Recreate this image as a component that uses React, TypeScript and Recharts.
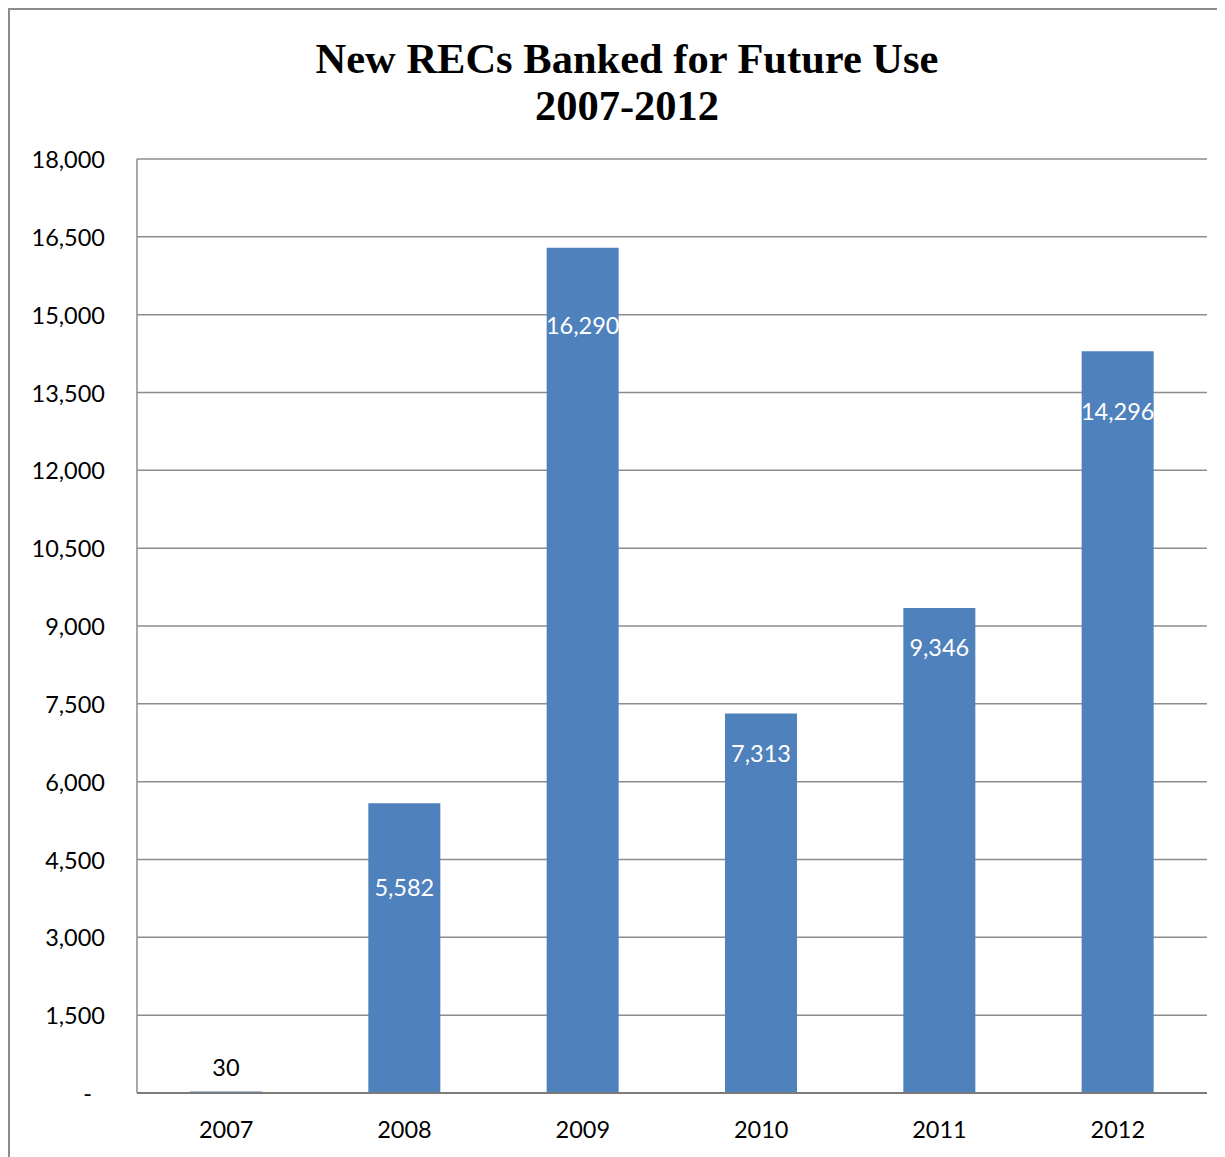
import React from "react";
import { BarChart, Bar, XAxis, YAxis, CartesianGrid, LabelList } from "recharts";

const YEARS = ["2007", "2008", "2009", "2010", "2011", "2012"];
const BANKED = [30, 5582, 16290, 7313, 9346, 14296];
const Y_TICKS = [0, 1500, 3000, 4500, 6000, 7500, 9000, 10500, 12000, 13500, 15000, 16500, 18000];

// how far below the bar top Excel placed each value label (negative = above)
const LABEL_DROP = [-24, 84, 77, 39, 39, 60];

const data = YEARS.map((year, i) => ({ year, value: BANKED[i] }));

const FONT = "Lato, 'Open Sans', sans-serif";
const FS = 23.5;
const GRID = "#8c8c8c";

const fmt = (v: number) => (v === 0 ? "-" : v.toLocaleString("en-US"));

const YTick = (props: any) => {
  const { x, y, payload } = props;
  const isZero = payload.value === 0;
  return (
    <text
      x={isZero ? x - 13 : x}
      y={y}
      textAnchor="end"
      dominantBaseline="central"
      fontFamily={FONT}
      fontSize={FS}
      fill="#000"
    >
      {fmt(payload.value)}
    </text>
  );
};

const ValueLabel = (props: any) => {
  const { x, y, width, value, index } = props;
  const drop = LABEL_DROP[index] ?? 30;
  return (
    <text
      x={x + width / 2}
      y={y + drop}
      textAnchor="middle"
      dominantBaseline="central"
      fontFamily={FONT}
      fontSize={FS}
      fill={drop < 0 ? "#000" : "#fff"}
    >
      {fmt(value)}
    </text>
  );
};

export default function App() {
  return (
    <div
      style={{
        position: "relative",
        width: 1217,
        height: 1149,
        borderLeft: `2px solid ${GRID}`,
        borderTop: `2px solid ${GRID}`,
        boxSizing: "border-box",
        background: "#fff",
      }}
    >
      {/* Title */}
      <div
        style={{
          position: "absolute",
          left: 0,
          top: 25,
          width: 1234,
          textAlign: "center",
          fontFamily: "'Liberation Serif', 'Times New Roman', serif",
          fontWeight: "bold",
          fontSize: 42.5,
          lineHeight: "47px",
          color: "#000",
        }}
      >
        New RECs Banked for Future Use
        <br />
        2007-2012
      </div>

      <BarChart
        width={1215}
        height={1147}
        data={data}
        margin={{ top: 149, right: 18, bottom: 0, left: 0 }}
        barSize={72}
      >
        <CartesianGrid vertical={false} stroke={GRID} strokeWidth={1.5} />
        <XAxis
          dataKey="year"
          height={64}
          tickSize={0}
          tickMargin={28}
          axisLine={{ stroke: "#7a7a7a", strokeWidth: 2 }}
          tickLine={false}
          tick={{ fontFamily: FONT, fontSize: FS, fill: "#000" }}
        />
        <YAxis
          width={127}
          domain={[0, 18000]}
          ticks={Y_TICKS}
          interval={0}
          tickSize={0}
          tickMargin={32}
          axisLine={{ stroke: GRID, strokeWidth: 1.5 }}
          tickLine={false}
          tick={<YTick />}
        />
        <Bar dataKey="value" fill="#4f81bd" isAnimationActive={false}>
          <LabelList dataKey="value" content={<ValueLabel />} />
        </Bar>
      </BarChart>
    </div>
  );
}
